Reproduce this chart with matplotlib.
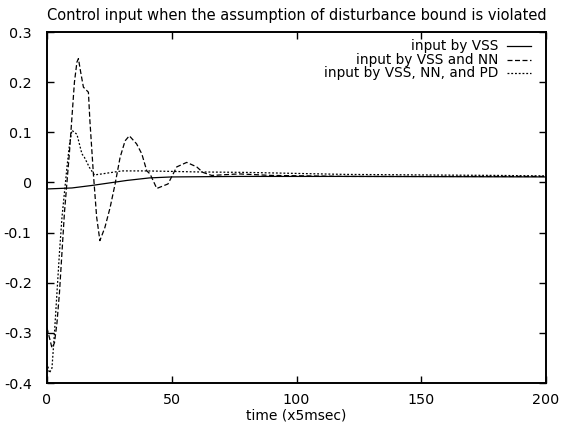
import matplotlib
matplotlib.use('Agg')
import matplotlib.pyplot as plt

# values (time in units of 5 msec)
vss_t = [0, 10, 18, 25, 32, 41, 50, 77, 120, 200]
vss_u = [-0.013, -0.011, -0.006, -0.001, 0.004, 0.009, 0.011, 0.012, 0.012, 0.011]

nn_t = [0, 1, 2, 3, 4, 5, 6, 7, 8, 9, 10, 11, 12, 12.6, 13.5, 14.6, 16.6, 17.2, 18.6,
        19.9, 21.2, 23.2, 25.3, 27.3, 29.3, 31.3, 33, 35.9, 38, 40, 41.3, 44, 48.5,
        52, 56, 60, 62.5, 66, 77, 90, 120, 200]
nn_u = [-0.29, -0.31, -0.33, -0.32, -0.28, -0.22, -0.14, -0.06, 0.0, 0.06, 0.13, 0.2,
        0.24, 0.247, 0.22, 0.19, 0.18, 0.123, 0.017, -0.069, -0.116, -0.09, -0.05,
        -0.003, 0.05, 0.083, 0.093, 0.077, 0.057, 0.023, 0.017, -0.012, -0.003, 0.031,
        0.04, 0.031, 0.02, 0.014, 0.017, 0.014, 0.012, 0.012]

pd_t = [0, 1, 2, 3, 4, 5, 6, 7, 8, 9, 10, 12, 14, 15, 17, 19, 22, 26, 30, 40, 50, 60,
        80, 100, 120, 150, 180, 200]
pd_u = [-0.36, -0.38, -0.37, -0.3, -0.22, -0.14, -0.07, -0.02, 0.03, 0.075, 0.104,
        0.096, 0.057, 0.05, 0.03, 0.015, 0.017, 0.02, 0.023, 0.023, 0.022, 0.021, 0.02,
        0.018, 0.016, 0.015, 0.014, 0.013]

labels = ['input by VSS', 'input by VSS and NN', 'input by VSS, NN, and PD']
x_ticks = [0, 50, 100, 150, 200]
y_ticks = [-0.4, -0.3, -0.2, -0.1, 0, 0.1, 0.2, 0.3]

plt.rcParams['font.family'] = ['DejaVu Sans']
plt.rcParams['axes.unicode_minus'] = False

fig = plt.figure(figsize=(5.62, 4.28), dpi=100)
ax = fig.add_axes([0.0836, 0.1051, 0.888, 0.8201])

styles = [dict(ls='-'), dict(ls=(0, (4, 2))), dict(ls=(0, (1.5, 1.5)))]
series = [(vss_t, vss_u), (nn_t, nn_u), (pd_t, pd_u)]
for (t, u), st in zip(series, styles):
    ax.plot(t, u, color='black', lw=0.9, **st)

# gnuplot style key: right aligned text, sample to the right
for i, (lab, st) in enumerate(zip(labels, styles)):
    yk = 0.96 - i * 0.039
    ax.text(0.905, yk, lab, transform=ax.transAxes, ha='right', va='center', fontsize=9.8)
    ax.plot([0.922, 0.97], [yk, yk], transform=ax.transAxes, color='black', lw=0.9, **st)

ax.set_xlim(0, 200)
ax.set_ylim(-0.4, 0.3)
ax.set_xticks(x_ticks)
ax.set_yticks(y_ticks)
ax.set_yticklabels(['%g' % v for v in y_ticks])
ax.tick_params(direction='in', length=5, width=1, top=True, right=True, labelsize=10.3)
ax.tick_params(axis='y', pad=11)
ax.tick_params(axis='x', pad=7)
for s in ax.spines.values():
    s.set_linewidth(1.4)

ax.set_title('Control input when the assumption of disturbance bound is violated',
             fontsize=10.5, pad=9)
ax.set_xlabel('time (x5msec)', fontsize=10, labelpad=1)

fig.savefig('out.png', dpi=100)
plt.close()
